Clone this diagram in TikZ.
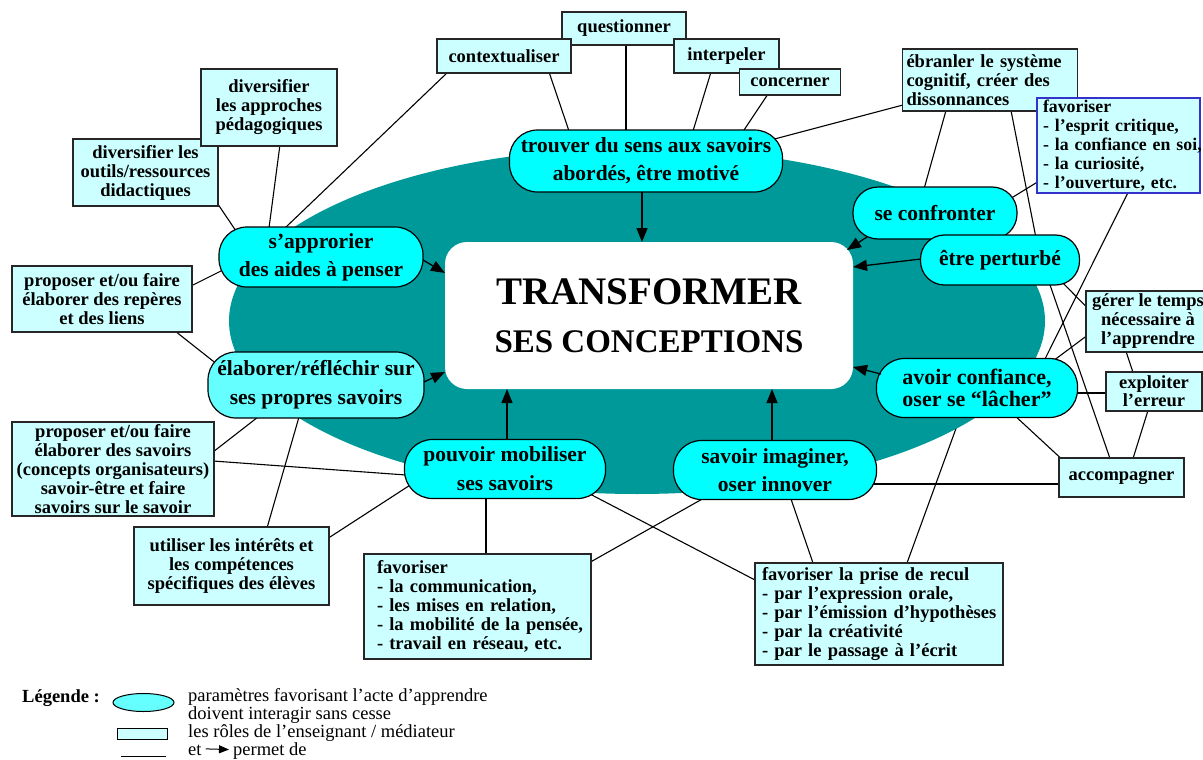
\documentclass[tikz,border=0pt]{standalone}
\usepackage{fontspec}
\setmainfont{Liberation Serif}
\usetikzlibrary{arrows.meta,shapes.geometric,calc}
\definecolor{cmteal}{RGB}{0,153,153}
\definecolor{cmcyan}{RGB}{0,255,255}
\definecolor{cmlcyan}{RGB}{102,255,255}
\definecolor{cmbox}{RGB}{204,255,255}
\definecolor{cmblue}{RGB}{51,51,204}
\pgfdeclarelayer{lines}
\pgfdeclarelayer{back}
\pgfsetlayers{lines,back,main}
\hyphenpenalty=10000
\exhyphenpenalty=10000
\begin{document}
\begin{tikzpicture}[x=1pt,y=-1pt,
  pill/.style={draw=black, line width=1.2pt, fill=cmcyan, rounded corners=#1, inner sep=0pt, align=center,
    font=\fontsize{21.5}{28}\selectfont\bfseries},
  pill/.default=28pt,
  role/.style={draw=black!85, line width=1.2pt, fill=cmbox, inner sep=0pt, align=center,
    font=\fontsize{18.5}{19}\selectfont\bfseries},
  link/.style={line width=1.1pt, black},
  goes/.style={line width=1.3pt, black, -{Triangle[length=14pt,width=11pt]}},
  legtext/.style={anchor=base west, inner sep=0pt, font=\fontsize{18.5}{18}\selectfont},
]
\useasboundingbox (0,0) rectangle (1203,760);

% background oval
\begin{pgfonlayer}{back}
\node[ellipse, fill=cmteal, minimum width=816pt, minimum height=346pt, inner sep=0pt] (oval) at (637,321) {};
\end{pgfonlayer}

% centre
\node[fill=white, rounded corners=22pt, minimum width=408pt, minimum height=147pt, inner sep=0pt, align=center,
  font=\fontsize{33}{48}\selectfont\bfseries] (cen) at (649,315.5)
  {{\fontsize{39}{48}\selectfont TRANSFORMER}\\SES CONCEPTIONS};

% parameters (pills)
\node[pill, minimum width=273pt, minimum height=62pt] (trouver) at (646,161) {trouver du sens aux savoirs\\abordés, être motivé};
\node[pill, minimum width=204pt, minimum height=60pt] (app) at (321,257) {s’approrier\\des aides à penser};
\node[pill, fill=cmlcyan, minimum width=216pt, minimum height=66pt, font=\fontsize{21.5}{29}\selectfont\bfseries] (ela) at (316,385) {élaborer/réfléchir sur\\ses propres savoirs};
\node[pill, minimum width=201pt, minimum height=59pt, font=\fontsize{21.5}{29}\selectfont\bfseries] (pou) at (505,469) {pouvoir mobiliser\\ses savoirs};
\node[pill, minimum width=203pt, minimum height=59pt] (sav) at (775,470) {savoir imaginer,\\oser innover};
\node[pill, minimum width=201pt, minimum height=59pt, font=\fontsize{22}{22}\selectfont\bfseries] (avo) at (977,388) {avoir confiance,\\oser se “lâcher”};
\node[pill=25pt, minimum width=164pt, minimum height=52pt] (conf) at (935,213) {se confronter};
\node[pill=24pt, minimum width=159pt, minimum height=50pt] (per) at (1000,260) {être perturbé};

% roles (boxes)
\node[role, minimum width=124pt, minimum height=33pt] (quest) at (624,28.5) {questionner};
\node[role, minimum width=134pt, minimum height=34pt] (contx) at (504,56) {contextualiser};
\node[role, minimum width=105pt, minimum height=34pt] (interp) at (726.5,56) {interpeler};
\node[role, minimum width=101pt, minimum height=26pt] (conc) at (790,82) {concerner};
\node[role, align=left, text width=167pt, inner xsep=4pt, minimum height=62pt] (ebr) at (990,80) {ébranler le système\\cognitif, créer des\\dissonnances};
\node[role, draw=cmblue, align=left, text width=151pt, inner xsep=6pt, minimum height=95pt,
  font=\fontsize{17.8}{19}\selectfont\bfseries] (favesp) at (1118.5,145.5)
  {favoriser\\- l’esprit critique,\\\mbox{- la confiance en soi,}\\- la curiosité,\\- l’ouverture, etc.};
\node[role, minimum width=145pt, minimum height=67pt] (divout) at (145.5,172.5) {diversifier les\\outils/ressources\\didactiques};
\node[role, minimum width=136pt, minimum height=77pt] (divapp) at (269,107.5) {diversifier\\les approches\\pédagogiques};
\node[role, minimum width=180pt, minimum height=66pt] (prorep) at (102,299) {proposer et/ou faire\\élaborer des repères\\et des liens};
\node[role, minimum width=202pt, minimum height=94pt] (prosav) at (113,469) {proposer et/ou faire\\élaborer des savoirs\\(concepts organisateurs)\\savoir-être et faire\\savoirs sur le savoir};
\node[role, minimum width=195pt, minimum height=78pt] (util) at (231.5,566) {utiliser les intérêts et\\les compétences\\spécifiques des élèves};
\node[role, align=left, text width=201pt, inner xsep=13pt, minimum height=105pt] (favcom) at (477.5,606.5)
  {favoriser\\\mbox{- la communication,}\\\mbox{- les mises en relation,}\\\mbox{- la mobilité de la pensée,}\\\mbox{- travail en réseau, etc.}};
\node[role, align=left, text width=234pt, inner xsep=7pt, minimum height=102pt] (prrec) at (879,614)
  {\mbox{favoriser la prise de recul}\\\mbox{- par l’expression orale,}\\\mbox{- par l’émission d’hypothèses}\\\mbox{- par la créativité}\\\mbox{- par le passage à l’écrit}};
\node[role, minimum width=124pt, minimum height=61pt] (gerer) at (1148,321.5) {gérer le temps\\nécessaire à\\l’apprendre};
\node[role, minimum width=96pt, minimum height=39pt, font=\fontsize{18.5}{18}\selectfont\bfseries] (expl) at (1154,391.5) {exploiter\\l’erreur};
\node[role, minimum width=125pt, minimum height=39pt] (accomp) at (1121.5,477.5) {accompagner};

% connectors (behind everything)
\begin{pgfonlayer}{lines}
\draw[link] ($(contx)+(45,16)$) -- ($(trouver)+(-77,-30)$);
\draw[link] ($(quest)+(2,15)$) -- ($(trouver)+(-20,-30)$);
\draw[link] ($(interp)+(-15.5,16)$) -- ($(trouver)+(47,-30)$);
\draw[link] ($(conc)+(-22,12)$) -- ($(trouver)+(96,-28)$);
\draw[link] ($(ebr)+(-87,25)$) -- ($(trouver)+(121,-20)$);
\draw[link] ($(contx)+(-56,16)$) -- ($(app)+(-36,-29)$);
\draw[link] ($(divapp)+(11,37)$) -- ($(app)+(-52,-29)$);
\draw[link] ($(divout)+(72,31)$) -- ($(app)+(-83,-23)$);
\draw[link] ($(prorep)+(89,-13)$) -- ($(app)+(-96,12)$);
\draw[link] ($(prorep)+(73,32)$) -- ($(ela)+(-98,-20)$);
\draw[link] ($(ela)+(-58,32)$) -- ($(prosav)+(100,-17)$);
\draw[link] ($(ela)+(-17,32)$) -- ($(util)+(35.5,-38)$);
\draw[link] ($(prosav)+(100,-8)$) -- ($(pou)+(-99,6)$);
\draw[link] ($(util)+(97,-28)$) -- ($(pou)+(-94,15.5)$);
\draw[link] ($(pou)+(-19,29)$) -- ($(favcom)+(8.5,-52)$);
\draw[link] ($(pou)+(83,24)$) -- ($(prrec)+(-124,-34)$);
\draw[link] ($(sav)+(-72,28.6)$) -- ($(favcom)+(113,-44.5)$);
\draw[link] ($(sav)+(16,29)$) -- ($(prrec)+(-66,-51)$);
\draw[link] ($(sav)+(95,14)$) -- ($(accomp)+(-62,6.5)$);
\draw[link] ($(avo)+(-15,24)$) -- ($(prrec)+(28,-51)$);
\draw[link] ($(favesp)+(9.5,47)$) -- ($(avo)+(66,-25)$);
\draw[link] ($(avo)+(76,-27)$) -- ($(gerer)+(-61.5,14.5)$);
\draw[link] ($(avo)+(95,5)$) -- ($(expl)+(-47.5,1.5)$);
\draw[link] ($(avo)+(36,26)$) -- ($(accomp)+(-61.5,-20)$);
\draw[link] ($(per)+(49,22)$) -- ($(accomp)+(-11.5,-19)$);
\draw[link] ($(per)+(60,20)$) -- ($(gerer)+(-61.5,-14.5)$);
\draw[link] ($(ebr)+(21,30.5)$) -- ($(per)+(36,-22)$);
\draw[link] ($(ebr)+(-44,30.5)$) -- ($(conf)+(-11,-24)$);
\draw[link] ($(conf)+(74,-13.5)$) -- ($(favesp)+(-81,36.5)$);
\draw[link] ($(gerer)+(-22,30)$) -- ($(expl)+(-21,-19)$);
\draw[link] ($(expl)+(-6,19)$) -- ($(accomp)+(11.5,-19)$);
\end{pgfonlayer}

% arrows into the centre
\draw[goes] ($(trouver)+(-4,31)$) -- ($(cen)+(-7,-73.5)$);
\draw[goes] ($(app)+(102,3)$) -- ($(cen)+(-204,-42.5)$);
\draw[goes] ($(ela)+(108,-3)$) -- ($(cen)+(-204,56.5)$);
\draw[goes] ($(pou)+(2,-29.5)$) -- ($(cen)+(-142,73.5)$);
\draw[goes] ($(sav)+(-3,-29.5)$) -- ($(cen)+(123,73.5)$);
\draw[goes] ($(conf)+(-68,24)$) -- ($(cen)+(198,-65.5)$);
\draw[goes] ($(per)+(-79,-1)$) -- ($(cen)+(204,-48.5)$);
\draw[goes] ($(avo)+(-96,-14)$) -- ($(cen)+(204,51.5)$);

% legend
\node[anchor=base west, inner sep=0pt, font=\fontsize{18.5}{19}\selectfont\bfseries] (leg) at (22,702) {Légende :};
\node[ellipse, draw=black, line width=1pt, fill=cmlcyan, minimum width=61pt, minimum height=18pt, inner sep=0pt] (legell) at (143.5,702.5) {};
\node[legtext] (lt1) at (188,701) {paramètres favorisant l’acte d’apprendre};
\node[legtext] (lt2) at (188,719) {doivent interagir sans cesse};
\node[draw=black, line width=1pt, fill=cmbox, minimum width=50pt, minimum height=11pt, inner sep=0pt] (legbox) at (142,734) {};
\node[legtext] (lt3) at (188,737) {les rôles de l’enseignant / médiateur};
\coordinate (lla) at (121,756);
\coordinate (llb) at (166,756);
\draw[line width=1pt] (lla) -- (llb);
\node[legtext] (lt4) at (188,755) {et};
\node[legtext] (lt5) at (233,755) {permet de};
\draw[line width=1pt, -{Triangle[length=10pt,width=8pt]}] ($(lt4.east)+(4,-1)$) -- ($(lt5.west)+(-4,-1)$);
\end{tikzpicture}
\end{document}
